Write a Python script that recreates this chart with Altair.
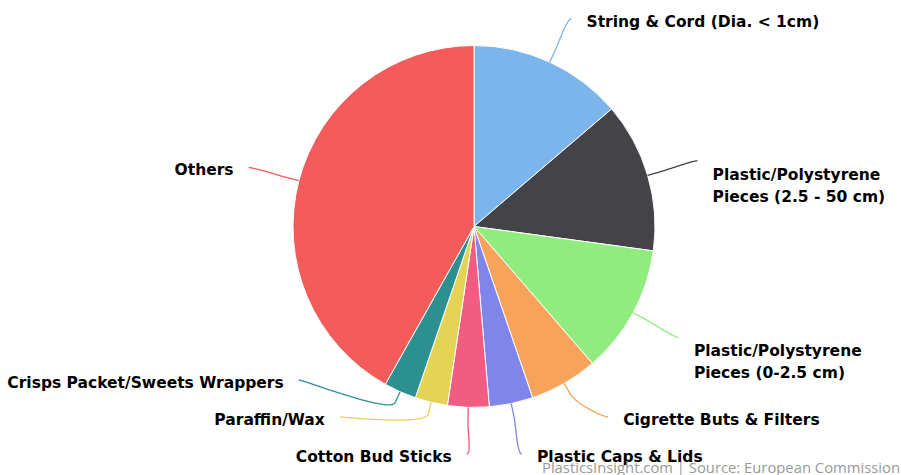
import math
import altair as alt
import pandas as pd

# ---- data ----
categories = [
    "String & Cord (Dia. < 1cm)",
    "Plastic/Polystyrene Pieces (2.5 - 50 cm)",
    "Plastic/Polystyrene Pieces (0-2.5 cm)",
    "Cigrette Buts & Filters",
    "Plastic Caps & Lids",
    "Cotton Bud Sticks",
    "Paraffin/Wax",
    "Crisps Packet/Sweets Wrappers",
    "Others",
]
label_lines = [
    ["String & Cord (Dia. < 1cm)"],
    ["Plastic/Polystyrene", "Pieces (2.5 - 50 cm)"],
    ["Plastic/Polystyrene", "Pieces (0-2.5 cm)"],
    ["Cigrette Buts & Filters"],
    ["Plastic Caps & Lids"],
    ["Cotton Bud Sticks"],
    ["Paraffin/Wax"],
    ["Crisps Packet/Sweets Wrappers"],
    ["Others"],
]
values = [13.75, 13.4, 11.5, 6.1, 3.9, 3.7, 2.9, 2.9, 41.85]
colors = ["#7cb5ec", "#434348", "#90ed7d", "#f7a35c", "#8085e9",
          "#f15c80", "#e4d354", "#2b908f", "#f45b5b"]
credit = "PlasticsInsight.com | Source: European Commission"

# ---- layout constants ----
W, H = 901, 475
CX, CY, R = 474, 226.5, 181
LABEL_R = 233
BREAK_R = R + 12
LINE_H = 22
GAP = 37
TOP, BOTTOM = 22, 457
TEXT_PAD = 15

total = sum(values)
mids = []
acc = 0.0
for v in values:
    mids.append((acc + v / 2) / total * 2 * math.pi)
    acc += v

# label anchor positions (Highcharts-like distribution)
natural = [CY - LABEL_R * math.cos(a) + 3 for a in mids]
ys = list(natural)
pushed = [False] * len(values)
sides = ["right" if a < math.pi else "left" for a in mids]
for side in ("right", "left"):
    idx = [i for i in range(len(values)) if sides[i] == side]
    idx.sort(key=lambda i: ys[i])
    for i in idx:
        ys[i] = min(max(ys[i], TOP), BOTTOM)
    for k in range(len(idx) - 2, -1, -1):
        i, j = idx[k], idx[k + 1]
        need = GAP + (len(label_lines[i]) - 1) * LINE_H
        if ys[j] - ys[i] < need:
            ys[i] = ys[j] - need
            pushed[i] = True
    for k in range(1, len(idx)):
        i, j = idx[k - 1], idx[k]
        need = GAP + (len(label_lines[i]) - 1) * LINE_H
        if ys[j] - ys[i] < need:
            ys[j] = ys[i] + need
            pushed[j] = True

text_rows, conn_rows = [], []
for i, a in enumerate(mids):
    sgn = 1 if sides[i] == "right" else -1
    ly = ys[i] - 3
    ref_y = ly if pushed[i] else natural[i] - 3
    dy = max(-1.0, min(1.0, (ref_y - CY) / LABEL_R))
    lx = CX + sgn * LABEL_R * math.cos(math.asin(dy))
    tx = lx + sgn * TEXT_PAD
    nlines = len(label_lines[i])
    text_rows.append({
        "cat": categories[i],
        "label": "\n".join(label_lines[i]),
        "x": tx,
        "y": ys[i] + (nlines - 1) * LINE_H / 2,
        "side": sides[i],
    })
    touch = (CX + R * math.sin(a), CY - R * math.cos(a))
    brk = (CX + BREAK_R * math.sin(a), CY - BREAK_R * math.cos(a))
    p0 = (lx, ly)
    c1 = (lx - sgn * 5, ly)
    c2 = (2 * brk[0] - touch[0], 2 * brk[1] - touch[1])
    p3 = brk
    n = 24
    pts = []
    for k in range(n + 1):
        t = k / n
        u = 1 - t
        x = u**3 * p0[0] + 3 * u * u * t * c1[0] + 3 * u * t * t * c2[0] + t**3 * p3[0]
        y = u**3 * p0[1] + 3 * u * u * t * c1[1] + 3 * u * t * t * c2[1] + t**3 * p3[1]
        pts.append((x, y))
    pts.append(touch)
    for k, (x, y) in enumerate(pts):
        conn_rows.append({"cat": categories[i], "x": x, "y": y, "o": k})

pie_df = pd.DataFrame({"cat": categories, "value": values, "idx": list(range(len(values)))})
text_df = pd.DataFrame(text_rows)
conn_df = pd.DataFrame(conn_rows)

color_scale = alt.Scale(domain=categories, range=colors)
xs = alt.Scale(domain=[0, W], range=[0, W], nice=False, zero=False)
ysc = alt.Scale(domain=[0, H], range=[0, H], nice=False, zero=False)

pie = alt.Chart(pie_df).mark_arc(radius=R, stroke="white", strokeWidth=1).encode(
    theta=alt.Theta("value:Q", stack=True),
    order=alt.Order("idx:Q"),
    color=alt.Color("cat:N", scale=color_scale, legend=None),
    x=alt.value(CX),
    y=alt.value(CY),
)

conn = alt.Chart(conn_df).mark_line(strokeWidth=1.3).encode(
    x=alt.X("x:Q", scale=xs, axis=None),
    y=alt.Y("y:Q", scale=ysc, axis=None),
    detail="cat:N",
    order="o:Q",
    color=alt.Color("cat:N", scale=color_scale, legend=None),
)

label_font = dict(font="DejaVu Sans", fontSize=15.5, fontWeight="bold",
                  color="#000000", lineBreak="\n", lineHeight=LINE_H, baseline="middle")
right_txt = alt.Chart(text_df).transform_filter(alt.datum.side == "right").mark_text(
    align="left", **label_font).encode(
    x=alt.X("x:Q", scale=xs, axis=None), y=alt.Y("y:Q", scale=ysc, axis=None), text="label:N")
left_txt = alt.Chart(text_df).transform_filter(alt.datum.side == "left").mark_text(
    align="right", **label_font).encode(
    x=alt.X("x:Q", scale=xs, axis=None), y=alt.Y("y:Q", scale=ysc, axis=None), text="label:N")

credit_txt = alt.Chart(pd.DataFrame({"t": [credit]})).mark_text(
    align="right", baseline="alphabetic", font="Open Sans", fontSize=14.8, color="#999999"
).encode(x=alt.value(W - 1), y=alt.value(H - 2), text="t:N")

chart = alt.layer(pie, conn, right_txt, left_txt, credit_txt).properties(
    width=W, height=H, padding=0, autosize=alt.AutoSizeParams(type="none"),
    background="white",
).configure_view(stroke=None)

chart.save("out.html", embed_options={"renderer": "svg", "actions": False})
